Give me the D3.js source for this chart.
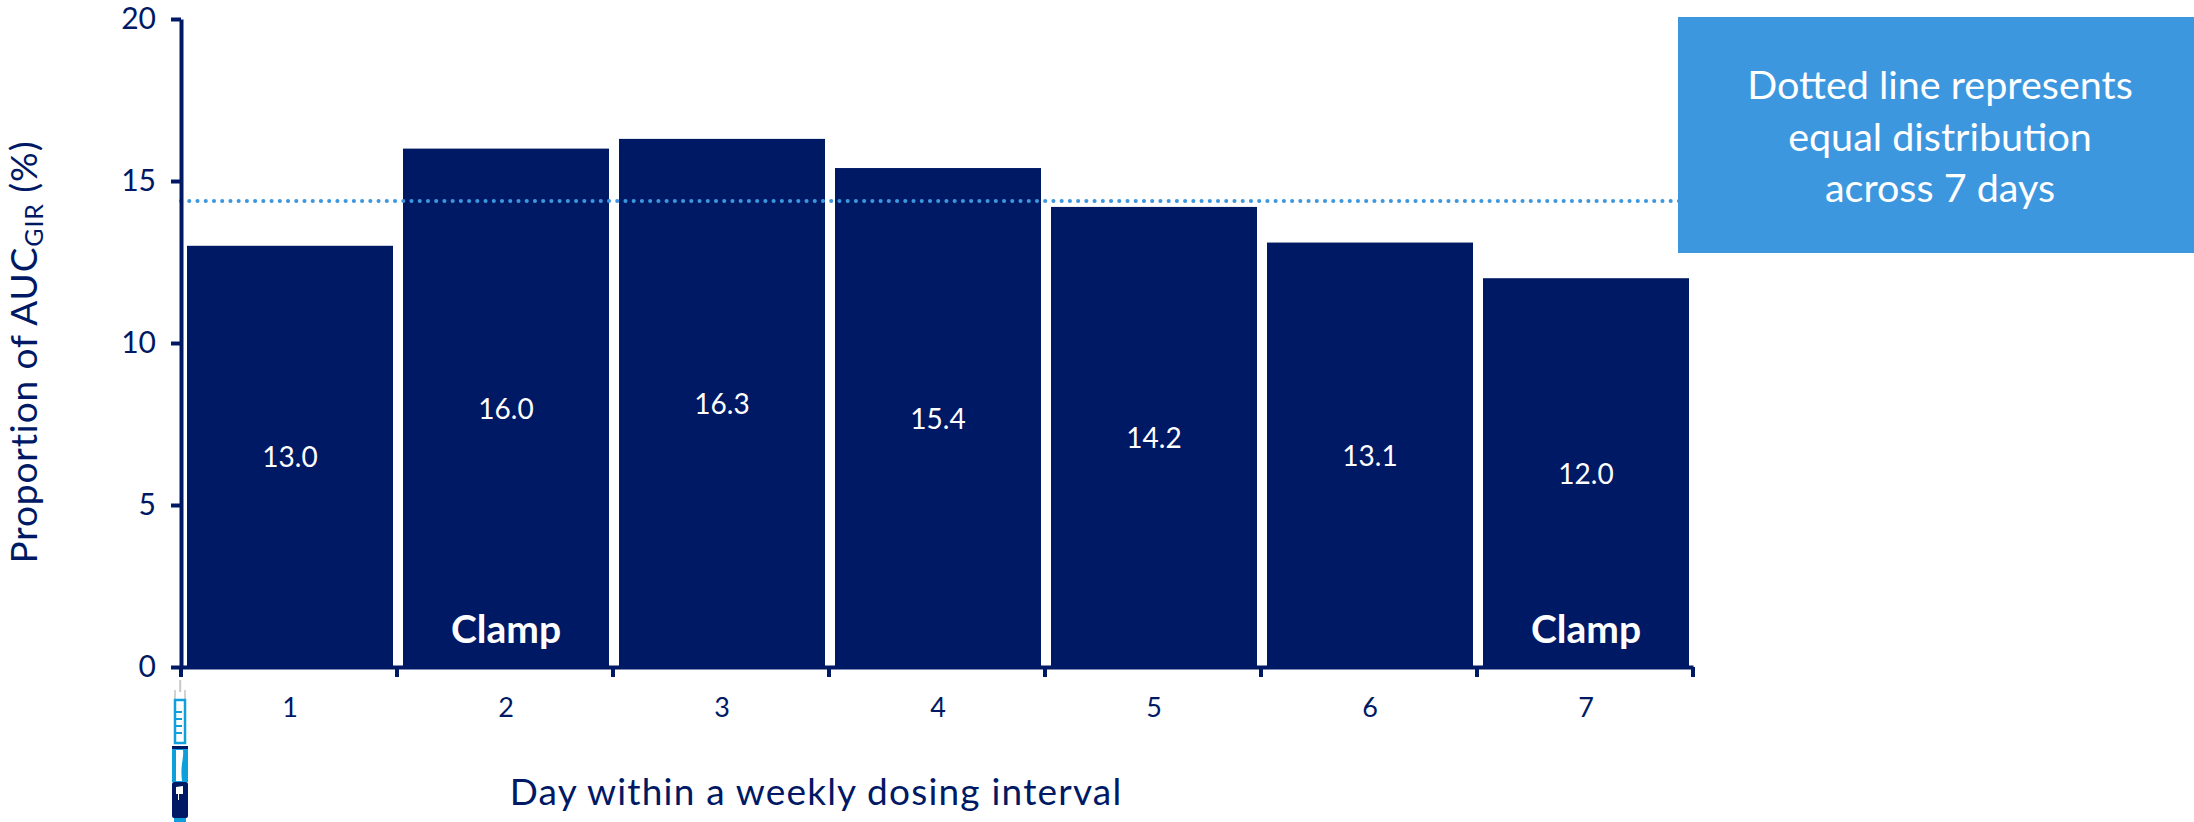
<!DOCTYPE html>
<html>
<head>
<meta charset="utf-8">
<script src="https://cdnjs.cloudflare.com/ajax/libs/d3/7.8.5/d3.min.js"></script>
<style>
html,body{margin:0;padding:0;background:#fff}
svg{display:block}
text{font-family:Lato,"Open Sans",sans-serif}
</style>
</head>
<body>
<svg id="chart" width="2194" height="822"></svg>
<script>
const days = ["1","2","3","4","5","6","7"];
const proportions = [13.0,16.0,16.3,15.4,14.2,13.1,12.0];
const valueLabels = ["13.0","16.0","16.3","15.4","14.2","13.1","12.0"];
const clampDays = ["2","7"];
const yTicks = [0,5,10,15,20];
const equalShare = 14.38;
const noteLines = ["Dotted line represents","equal distribution","across 7 days"];

const NAVY = "#001965", BLUE = "#3d97df", PEN = "#0fa0dc";
const svg = d3.select("#chart");

const x = d3.scaleBand().domain(days).range([181,1693])
  .paddingInner(10/216).paddingOuter(5/216).align(0.6);
const y = d3.scaleLinear().domain([0,20]).range([667,19]);

// bars
svg.append("g").selectAll("rect").data(days).join("rect")
  .attr("x",d=>x(d)).attr("width",x.bandwidth())
  .attr("y",(d,i)=>y(proportions[i]))
  .attr("height",(d,i)=>y(0)-y(proportions[i]))
  .attr("fill",NAVY);

// equal-share reference line runs across the bars
svg.append("line").attr("x1",181).attr("x2",1680)
  .attr("y1",y(equalShare)).attr("y2",y(equalShare))
  .attr("stroke",BLUE).attr("stroke-width",4)
  .attr("stroke-linecap","round").attr("stroke-dasharray","0.1 8.13");

// value labels at mid-bar
svg.append("g").selectAll("text").data(days).join("text")
  .attr("x",d=>x(d)+x.bandwidth()/2)
  .attr("y",(d,i)=>y(proportions[i]/2)+11)
  .attr("text-anchor","middle").attr("fill","#fff").attr("font-size",28)
  .text((d,i)=>valueLabels[i]);

// clamp markers
svg.append("g").selectAll("text").data(clampDays).join("text")
  .attr("x",d=>x(d)+x.bandwidth()/2).attr("y",643)
  .attr("text-anchor","middle").attr("fill","#fff")
  .attr("font-size",39).attr("font-weight",700).text("Clamp");

// y axis
const yAxis = svg.append("g").attr("transform","translate(181,0)")
  .call(d3.axisLeft(y).tickValues(yTicks).tickSize(10).tickPadding(15).tickSizeOuter(0));
yAxis.select(".domain").attr("stroke",NAVY).attr("stroke-width",4);
yAxis.selectAll(".tick line").attr("stroke",NAVY).attr("stroke-width",4);
yAxis.selectAll(".tick text").attr("fill",NAVY).attr("font-size",30)
  .style("font-family","Lato,'Open Sans',sans-serif");

// x axis: labels centred in each band, ticks on the band edges
const edges = d3.scaleLinear().domain([0,days.length]).range([181,1693]);
const xAxis = svg.append("g").attr("transform","translate(0,667)")
  .call(d3.axisBottom(x).tickSize(0).tickPadding(31).tickSizeOuter(0));
xAxis.select(".domain").attr("stroke",NAVY).attr("stroke-width",4);
xAxis.selectAll(".tick text").attr("fill",NAVY).attr("font-size",27)
  .style("font-family","Lato,'Open Sans',sans-serif");
xAxis.append("g").selectAll("line").data(d3.range(days.length+1)).join("line")
  .attr("x1",d=>edges(d)).attr("x2",d=>edges(d)).attr("y1",0).attr("y2",10)
  .attr("stroke",NAVY).attr("stroke-width",4);

// axis titles
svg.append("text").attr("transform","translate(37,352) rotate(-90)")
  .attr("text-anchor","middle").attr("fill",NAVY).attr("font-size",37)
  .attr("letter-spacing",0.9)
  .call(t=>{
    t.append("tspan").text("Proportion of AUC");
    t.append("tspan").text("GIR").attr("font-size",25).attr("dy",6);
    t.append("tspan").text(" (%)").attr("dy",-6);
  });
svg.append("text").attr("x",816).attr("y",805).attr("text-anchor","middle")
  .attr("fill",NAVY).attr("font-size",37).attr("letter-spacing",1.2)
  .text("Day within a weekly dosing interval");

// note box
svg.append("rect").attr("x",1678).attr("y",17).attr("width",516).attr("height",236).attr("fill",BLUE);
svg.append("g").selectAll("text").data(noteLines).join("text")
  .attr("x",1940).attr("y",(d,i)=>99+i*51.5)
  .attr("text-anchor","middle").attr("fill","#fff").attr("font-size",39.5)
  .text(d=>d);

// injection pen pictogram below the axis
const pen = svg.append("g").attr("transform","translate(180,0)");
pen.append("rect").attr("x",-0.8).attr("y",680).attr("width",2).attr("height",12).attr("fill","#c8c8c8");
pen.append("path").attr("d","M-5 699v-9M5 699v-9").attr("stroke","#b5b5b5").attr("stroke-width",1.2).attr("fill","none");
pen.append("rect").attr("x",-5).attr("y",700).attr("width",10).attr("height",43)
  .attr("fill","#fff").attr("stroke",PEN).attr("stroke-width",2.5);
pen.append("path").attr("d","M-4 712h6M-4 719h6M-4 726h6M-4 733h6").attr("stroke",PEN).attr("stroke-width",2);
pen.append("rect").attr("x",-8).attr("y",746).attr("width",16).attr("height",3.5).attr("fill",NAVY);
pen.append("rect").attr("x",-8).attr("y",749).attr("width",16).attr("height",33).attr("fill",PEN);
pen.append("path").attr("d","M-4 750h7c1 9 -3 15 -1 31h-6z").attr("fill","#fff");
pen.append("rect").attr("x",-8).attr("y",782).attr("width",16).attr("height",36).attr("rx",2).attr("fill",NAVY);
pen.append("path").attr("d","M-4 787l7 -1v8h-4v6h-1v-6h-2z").attr("fill","#fff");
pen.append("rect").attr("x",-6).attr("y",818).attr("width",12).attr("height",4).attr("fill",PEN);
</script>
</body>
</html>
